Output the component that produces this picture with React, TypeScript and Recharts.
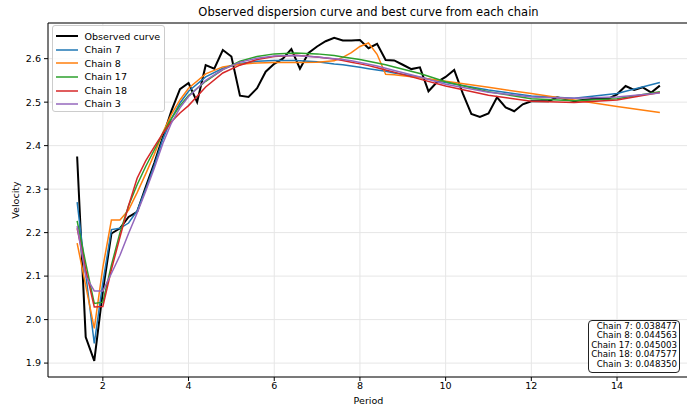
import React from 'react';
import { LineChart, Line, XAxis, YAxis, CartesianGrid, Legend, ReferenceLine } from 'recharts';

const periods = [
  1.4, 1.6, 1.8, 2.0, 2.2, 2.4, 2.6, 2.8, 3.0, 3.2, 3.4, 3.6, 3.8, 4.0, 4.2, 4.4, 4.6, 4.8, 5.0, 5.2,
  5.4, 5.6, 5.8, 6.0, 6.2, 6.4, 6.6, 6.8, 7.0, 7.2, 7.4, 7.6, 7.8, 8.0, 8.2, 8.4, 8.6, 8.8, 9.0, 9.2,
  9.4, 9.6, 9.8, 10.0, 10.2, 10.4, 10.6, 10.8, 11.0, 11.2, 11.4, 11.6, 11.8, 12.0, 12.2, 12.4, 12.6, 12.8, 13.0, 13.2,
  13.4, 13.6, 13.8, 14.0, 14.2, 14.4, 14.6, 14.8, 15.0,
];

const observedVelocity = [
  2.375, 1.96, 1.905, 2.065, 2.198, 2.21, 2.236, 2.248, 2.305, 2.36, 2.42, 2.48, 2.53, 2.544, 2.5, 2.585, 2.577, 2.62, 2.605, 2.515,
  2.512, 2.532, 2.57, 2.588, 2.6, 2.622, 2.577, 2.613, 2.628, 2.64, 2.648, 2.642, 2.642, 2.643, 2.624, 2.634, 2.597, 2.596, 2.586, 2.576,
  2.58, 2.525, 2.546, 2.558, 2.574, 2.52, 2.473, 2.466, 2.474, 2.511, 2.488, 2.479, 2.495, 2.502, 2.502, 2.502, 2.511, 2.507, 2.502, 2.505,
  2.507, 2.507, 2.508, 2.518, 2.537, 2.528, 2.534, 2.522, 2.538,
];

const chainPeriods = [
  1.4, 1.6, 1.8, 2.0, 2.2, 2.4, 2.6, 2.8, 3.0, 3.2, 3.4, 3.6, 3.8, 4.0, 4.4, 4.8, 5.2, 5.6, 6.0, 6.5,
  7.0, 7.4, 7.6, 7.8, 8.0, 8.2, 8.4, 8.6, 8.8, 9.4, 10, 11, 12, 13, 14, 15,
];

const chain7 = [
  2.27, 2.105, 1.945, 2.085, 2.207, 2.21, 2.222, 2.25, 2.3, 2.355, 2.415, 2.462, 2.498, 2.525, 2.558, 2.578, 2.589, 2.594, 2.596, 2.596,
  2.593, 2.588, 2.586, 2.583, 2.58, 2.577, 2.574, 2.571, 2.567, 2.557, 2.545, 2.528, 2.514, 2.509, 2.52, 2.545,
];
const chain8 = [
  2.176, 2.078, 1.98, 2.12, 2.229, 2.229, 2.252, 2.292, 2.335, 2.38, 2.43, 2.472, 2.505, 2.532, 2.565, 2.581, 2.587, 2.59, 2.591, 2.591,
  2.592, 2.595, 2.603, 2.614, 2.628, 2.636, 2.61, 2.564, 2.563, 2.556, 2.548, 2.534, 2.52, 2.505, 2.49, 2.476,
];
const chain17 = [
  2.227, 2.13, 2.037, 2.04, 2.125, 2.2, 2.262, 2.31, 2.352, 2.39, 2.428, 2.462, 2.492, 2.515, 2.548, 2.575, 2.594, 2.605, 2.611, 2.613,
  2.611, 2.607, 2.604, 2.601, 2.598, 2.594, 2.59, 2.586, 2.581, 2.566, 2.547, 2.524, 2.508, 2.503, 2.508, 2.524,
];
const chain18 = [
  2.21, 2.115, 2.029, 2.03, 2.115, 2.19, 2.262, 2.325, 2.365, 2.397, 2.428, 2.455, 2.475, 2.492, 2.535, 2.567, 2.585, 2.598, 2.605, 2.608,
  2.604, 2.599, 2.596, 2.592, 2.588, 2.584, 2.579, 2.574, 2.569, 2.553, 2.537, 2.516, 2.502, 2.499, 2.505, 2.522,
];
const chain3 = [
  2.215, 2.1, 2.066, 2.066, 2.106, 2.148, 2.198, 2.245, 2.295, 2.348, 2.405, 2.452, 2.487, 2.513, 2.55, 2.575, 2.592, 2.601, 2.606, 2.607,
  2.604, 2.6, 2.598, 2.595, 2.591, 2.587, 2.583, 2.578, 2.573, 2.558, 2.541, 2.523, 2.512, 2.509, 2.512, 2.521,
];

const xTicks = [2, 4, 6, 8, 10, 12, 14];
const yTicks = [1.9, 2.0, 2.1, 2.2, 2.3, 2.4, 2.5, 2.6];
const X_DOMAIN: [number, number] = [0.72, 15.68];
const Y_DOMAIN: [number, number] = [1.868, 2.682];

const misfitLines = [
  'Chain 7: 0.038477',
  'Chain 8: 0.044563',
  'Chain 17: 0.045003',
  'Chain 18: 0.047577',
  'Chain 3: 0.048350',
];

const series = [
  { name: 'Observed curve', color: '#000000', width: 2, x: periods, y: observedVelocity },
  { name: 'Chain 7', color: '#1f77b4', width: 1.5, x: chainPeriods, y: chain7 },
  { name: 'Chain 8', color: '#ff7f0e', width: 1.5, x: chainPeriods, y: chain8 },
  { name: 'Chain 17', color: '#2ca02c', width: 1.5, x: chainPeriods, y: chain17 },
  { name: 'Chain 18', color: '#d62728', width: 1.5, x: chainPeriods, y: chain18 },
  { name: 'Chain 3', color: '#9467bd', width: 1.5, x: chainPeriods, y: chain3 },
];

const FONT = '"DejaVu Sans", sans-serif';

const LegendBox = () => (
  <div
    style={{
      width: 113,
      height: 87,
      boxSizing: 'border-box',
      border: '1px solid #cccccc',
      borderRadius: 3,
      background: 'rgba(255,255,255,0.8)',
      paddingTop: 3.5,
      fontFamily: FONT,
      fontSize: 9.55,
      color: '#000',
    }}
  >
    {series.map((s) => (
      <div key={s.name} style={{ height: 13.6, display: 'flex', alignItems: 'center' }}>
        <svg width={22} height={6} style={{ marginLeft: 3, marginRight: 7, display: 'block' }}>
          <line x1={0} y1={3} x2={22} y2={3} stroke={s.color} strokeWidth={s.width} />
        </svg>
        <span style={{ whiteSpace: 'nowrap', lineHeight: '13.6px' }}>{s.name}</span>
      </div>
    ))}
  </div>
);

const VelocityLabel = () => (
  <text
    x={15}
    y={200}
    transform="rotate(-90, 15, 200)"
    textAnchor="middle"
    dominantBaseline="central"
    fontFamily={FONT}
    fontSize={9.55}
    fill="#000"
  >
    Velocity
  </text>
);

export default function App() {
  return (
    <div style={{ position: 'absolute', left: 0, top: 0, width: 687, height: 406, background: '#fff', overflow: 'hidden' }}>
      <div
        style={{
          position: 'absolute',
          left: 0,
          top: 5,
          width: 737,
          textAlign: 'center',
          fontFamily: FONT,
          fontSize: 11.5,
          lineHeight: '14px',
          color: '#000',
          zIndex: 2,
          whiteSpace: 'nowrap',
        }}
      >
        Observed dispersion curve and best curve from each chain
      </div>
      <LineChart width={687} height={406} margin={{ top: 23, right: -2, bottom: 0, left: 0 }}>
        <CartesianGrid stroke="#e6e6e6" strokeWidth={1} />
        <XAxis
          type="number"
          dataKey="x"
          domain={X_DOMAIN}
          allowDataOverflow
          ticks={xTicks}
          height={29}
          tickSize={4}
          tickMargin={1}
          stroke="#000"
          axisLine={{ stroke: '#000' }}
          tickLine={{ stroke: '#000' }}
          tick={{ fill: '#000', fontSize: 9.55, fontFamily: FONT }}
          label={{ value: 'Period', position: 'insideBottom', offset: 2.5, fill: '#000', fontSize: 9.55, fontFamily: FONT }}
        />
        <YAxis
          type="number"
          domain={Y_DOMAIN}
          allowDataOverflow
          ticks={yTicks}
          width={48}
          tickSize={4}
          tickMargin={3}
          axisLine={{ stroke: '#000' }}
          tickLine={{ stroke: '#000' }}
          tick={{ fill: '#000', fontSize: 9.55, fontFamily: FONT }}
          tickFormatter={(v: number) => v.toFixed(1)}
          label={<VelocityLabel />}
        />
        <ReferenceLine y={Y_DOMAIN[1]} stroke="#000" strokeWidth={1} />
        {series.map((s) => (
          <Line
            key={s.name}
            name={s.name}
            data={s.x.map((p, i) => ({ x: p, v: s.y[i] }))}
            dataKey="v"
            type="linear"
            stroke={s.color}
            strokeWidth={s.width}
            dot={false}
            activeDot={false}
            isAnimationActive={false}
          />
        ))}
        <Legend
          layout="horizontal"
          verticalAlign="middle"
          align="center"
          content={<LegendBox />}
          wrapperStyle={{ left: 51.5, top: 25, width: 113, height: 87 }}
        />
      </LineChart>
      <div
        style={{
          position: 'absolute',
          left: 588,
          top: 320,
          width: 92,
          height: 52.5,
          boxSizing: 'border-box',
          border: '1px solid #222',
          borderRadius: 4,
          background: '#fff',
          padding: '0.5px 2px 0 2px',
          fontFamily: FONT,
          fontSize: 8.7,
          lineHeight: '9.6px',
          textAlign: 'right',
          color: '#000',
          whiteSpace: 'pre',
        }}
      >
        {misfitLines.join('\n')}
      </div>
    </div>
  );
}
